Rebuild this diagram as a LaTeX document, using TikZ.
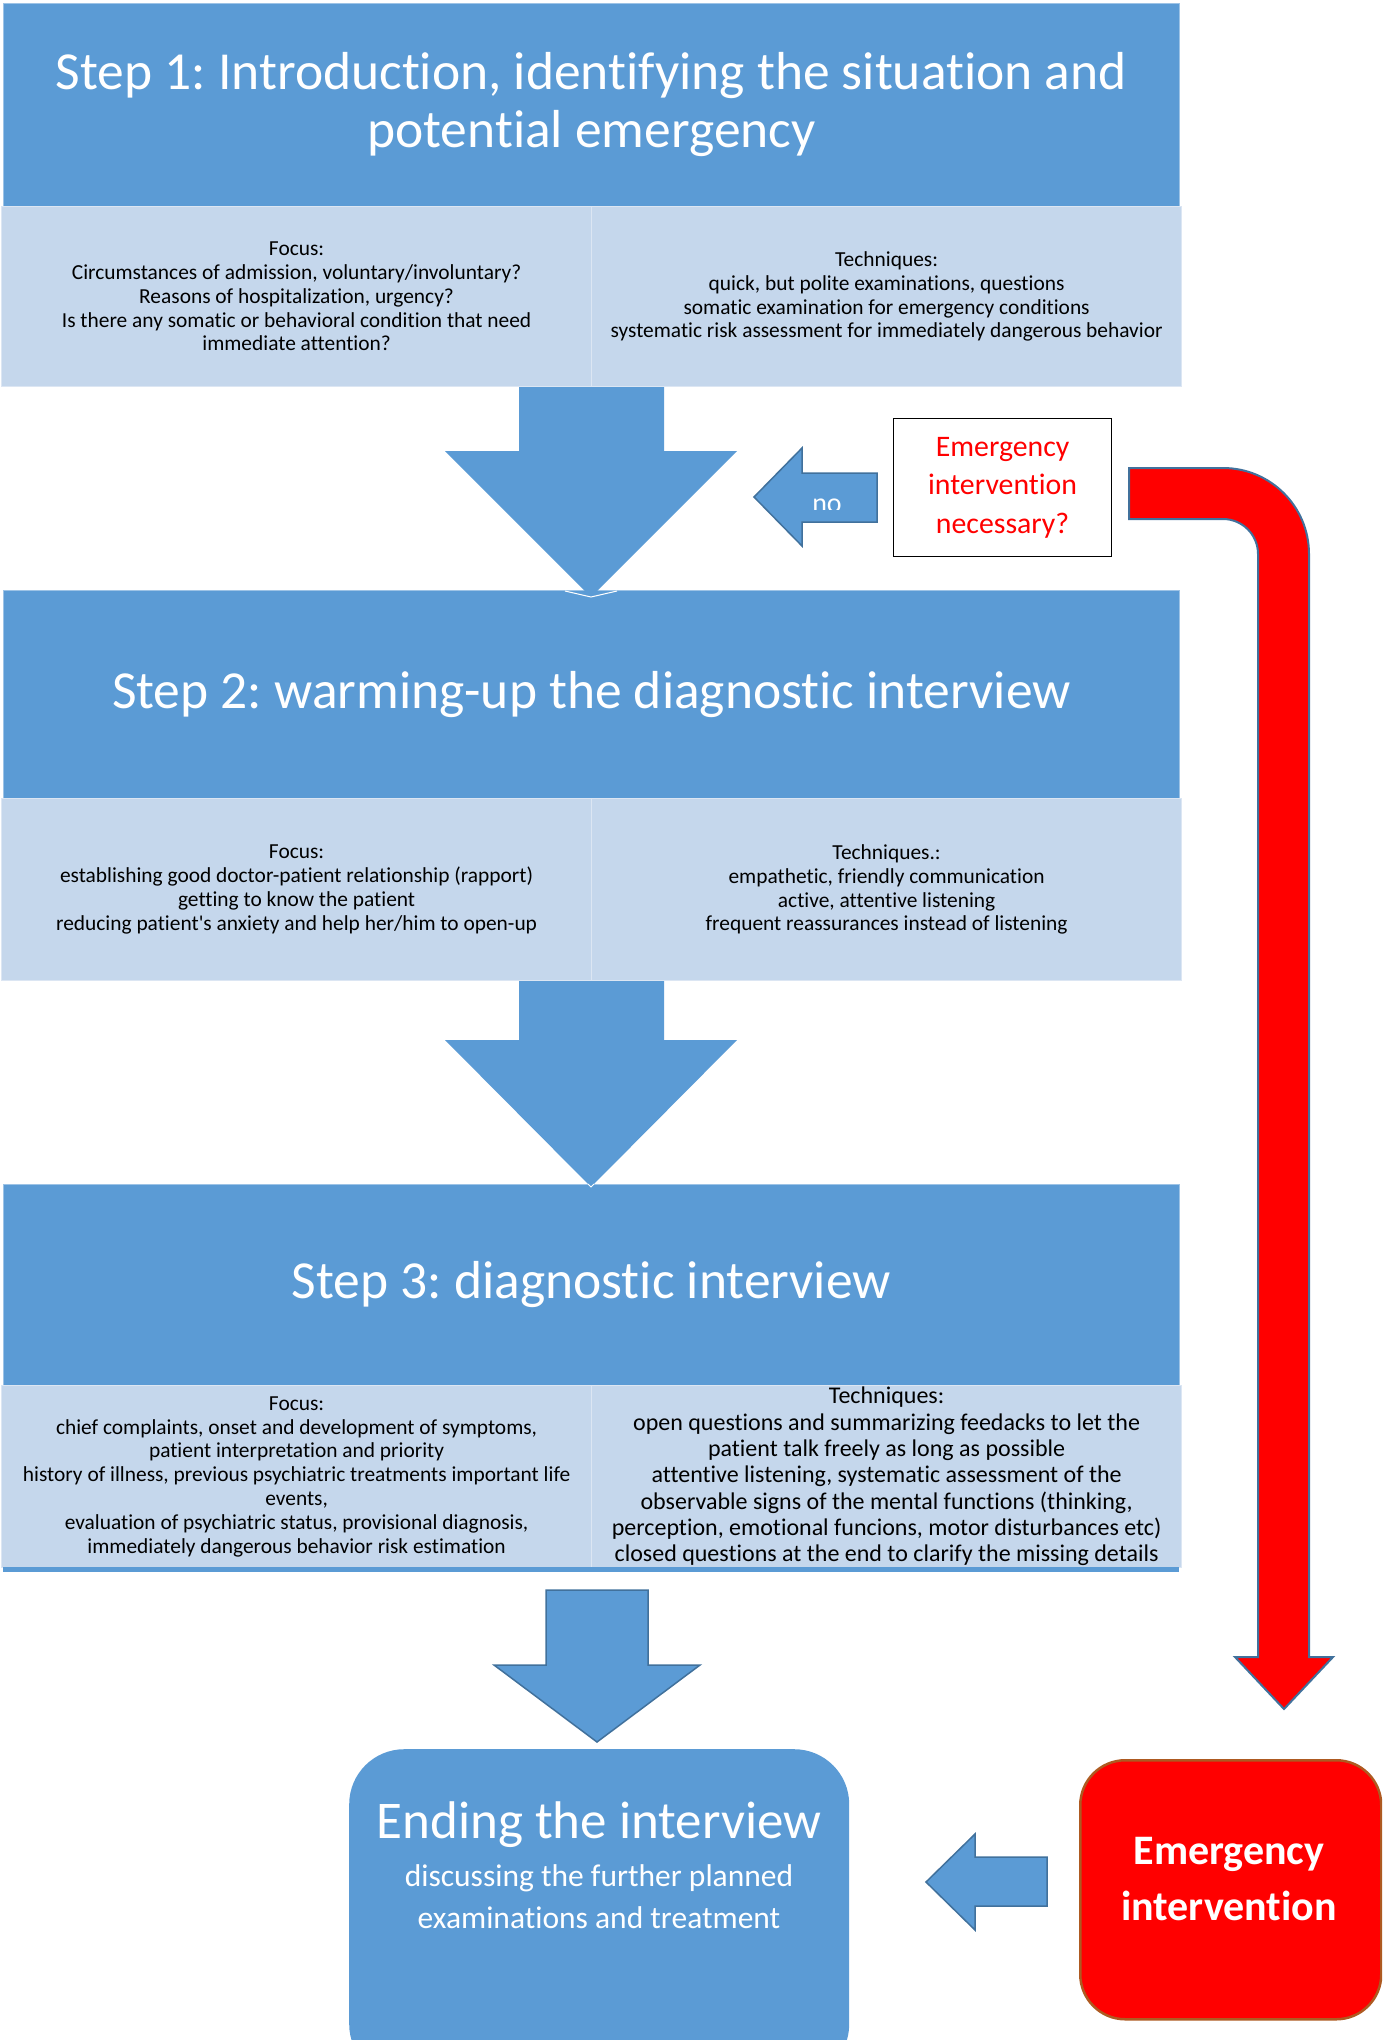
\documentclass[tikz,border=0pt]{standalone}
\usepackage{fontspec}
\setmainfont{Carlito}[Ligatures={TeXOff,CommonOff}]
\frenchspacing
\definecolor{hblue}{RGB}{91,155,213}
\definecolor{lblue}{RGB}{197,215,236}
\definecolor{cellline}{RGB}{220,230,243}
\definecolor{edgeblue}{RGB}{65,113,156}
\definecolor{hedge}{RGB}{157,195,230}
\definecolor{embrown}{RGB}{174,90,33}
\begin{document}
\begin{tikzpicture}[x=1pt,y=-1pt,
  header/.style={anchor=north west, fill=hblue, draw=hedge, line width=0.8pt, inner sep=0pt,
    text=white, align=center, minimum width=1176pt, font=\fontsize{53.5}{58}\selectfont},
  cell/.style={anchor=north west, fill=lblue, draw=cellline, line width=1.2pt, inner sep=0pt,
    minimum width=590pt, align=center, font=\fontsize{21.4}{23.8}\selectfont},
  blockarrow/.style={fill=hblue, draw=none},
  tipline/.style={draw=white, line width=1pt},
  edgearrow/.style={fill=hblue, draw=edgeblue, line width=1.5pt, line join=miter},
]
\useasboundingbox (0,0) rectangle (1382,2040);
\clip (0,0) rectangle (1382,2040);

% ---------- Step 1
\node[header, minimum height=203pt] (h1) at (3,3)
  {Step 1: Introduction, identifying the situation and\\potential emergency};
\node[cell, minimum height=180pt] (c1l) at (1,206)
  {Focus:\\Circumstances of admission, voluntary/involuntary?\\Reasons of hospitalization, urgency?\\Is there any somatic or behavioral condition that need\\immediate attention?};
\node[cell, minimum height=180pt] (c1r) at (591,206)
  {Techniques:\\quick, but polite examinations, questions\\somatic examination for emergency conditions\\systematic risk assessment for immediately dangerous behavior};

% ---------- Step 2
\node[header, minimum height=208pt] (h2) at (3,590)
  {Step 2: warming-up the diagnostic interview};
\node[cell, minimum height=182pt] (c2l) at (1,798)
  {Focus:\\establishing good doctor-patient relationship (rapport)\\getting to know the patient\\reducing patient's anxiety and help her/him to open-up};
\node[cell, minimum height=182pt] (c2r) at (591,798)
  {Techniques.:\\empathetic, friendly communication\\active, attentive listening\\frequent reassurances instead of listening};

% ---------- Step 3
\node[header, minimum height=201pt] (h3) at (3,1184)
  {Step 3: diagnostic interview};
\node[cell, minimum height=182pt] (c3l) at (1,1385)
  {Focus:\\chief complaints, onset and development of symptoms,\\patient interpretation and priority\\history of illness, previous psychiatric treatments important life\\events,\\evaluation of psychiatric status, provisional diagnosis,\\immediately dangerous behavior risk estimation};
\node[cell, minimum height=182pt, font=\fontsize{24}{26.3}\selectfont] (c3r) at (591,1385)
  {Techniques:\\open questions and summarizing feedacks to let the\\patient talk freely as long as possible\\attentive listening, systematic assessment of the\\observable signs of the mental functions (thinking,\\perception, emotional funcions, motor disturbances etc)\\closed questions at the end to clarify the missing details};
\draw[hblue, line width=5pt] (3,1569.5) -- (1179,1569.5);

% ---------- down arrows
\fill[blockarrow] (519,387) -- (664,387) -- (664,451) -- (737,451) -- (591,597)
  -- (445,451) -- (519,451) -- cycle;
\draw[tipline] (565,591) -- (591,597) -- (617,591);
\fill[blockarrow] (519,981) -- (664,981) -- (664,1040) -- (737,1040) -- (591,1187)
  -- (445,1040) -- (519,1040) -- cycle;
\draw[tipline] (588,1184) -- (591,1187) -- (594,1184);
\draw[edgearrow] (546,1590) -- (648,1590) -- (648,1665) -- (700,1665) -- (597,1742)
  -- (494,1665) -- (546,1665) -- cycle;

% ---------- question box and "no" arrow
\node[draw=black, line width=1.2pt, minimum width=218pt, minimum height=138pt, inner sep=0pt,
  anchor=north west, text=red, align=center, font=\fontsize{29.8}{38.5}\selectfont] (q) at (893,418)
  {Emergency\\intervention\\necessary?};
\draw[edgearrow] (877,473) -- (877,522) -- (802,522) -- (802,546) -- (754,497) -- (802,448)
  -- (802,473) -- cycle;
\begin{scope}
  \clip (790,470) rectangle (870,509.5);
  \node[text=white, inner sep=0pt, anchor=base, font=\fontsize{28}{34}\selectfont] (no) at (827,512) {no};
\end{scope}

% ---------- red bent arrow
\filldraw[fill=red, draw=edgeblue, line width=2pt, line join=miter]
  (1129,468) -- (1223,468) .. controls (1270.5,468) and (1309,506.5) .. (1309,554)
  -- (1309,1657) -- (1333,1657) -- (1284,1709) -- (1235,1657) -- (1258,1657) -- (1258,554)
  .. controls (1258,534.7) and (1242.3,519) .. (1223,519) -- (1129,519) -- cycle;

% ---------- ending box
\node[fill=hblue, rounded corners=55pt, minimum width=500pt, minimum height=330pt, inner sep=0pt,
  anchor=north west] (endbox) at (349,1749) {};
\node[text=white, inner sep=0pt, anchor=base, font=\fontsize{53}{60}\selectfont] (endtitle)
  at (599,1838) {Ending the interview};
\node[text=white, inner sep=0pt, anchor=north, align=center, font=\fontsize{31.5}{42}\selectfont] (endsub)
  at (599,1864) {discussing the further planned\\examinations and treatment};

% ---------- emergency intervention
\node[fill=red, draw=embrown, line width=2.5pt, rounded corners=45pt, minimum width=301pt,
  minimum height=259pt, inner sep=0pt, anchor=north west] (emerg) at (1079,1759) {};
\node[text=white, inner sep=0pt, align=center, font=\bfseries\fontsize{42}{56}\selectfont] (emergtext)
  at (1229,1879) {Emergency\\intervention};
\draw[edgearrow] (1047,1857) -- (1047,1906) -- (975,1906) -- (975,1930) -- (926,1882)
  -- (975,1834) -- (975,1857) -- cycle;
\end{tikzpicture}
\end{document}
